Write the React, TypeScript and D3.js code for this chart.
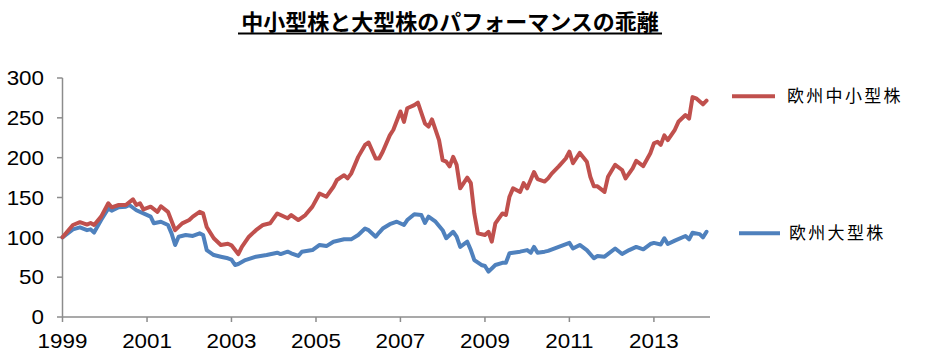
import React from "react";
import * as d3 from "d3";

const title = "中小型株と大型株のパフォーマンスの乖離";
const seriesNames = ["欧州中小型株", "欧州大型株"];
const yTicks = [0, 50, 100, 150, 200, 250, 300];
const xTickLabels = ["1999", "2001", "2003", "2005", "2007", "2009", "2011", "2013"];

const smallDates = ["1999-01","1999-04","1999-06","1999-08","1999-09","1999-10","1999-12","2000-02","2000-03","2000-05","2000-07","2000-09","2000-10","2000-11","2000-12","2001-02","2001-04","2001-05","2001-07","2001-09","2001-11","2002-01","2002-02","2002-04","2002-05","2002-06","2002-08","2002-10","2002-12","2003-01","2003-03","2003-04","2003-06","2003-08","2003-10","2003-12","2004-02","2004-03","2004-05","2004-06","2004-08","2004-10","2004-12","2005-02","2005-04","2005-06","2005-07","2005-09","2005-10","2005-11","2006-01","2006-03","2006-04","2006-06","2006-07","2006-08","2006-10","2006-11","2007-01","2007-02","2007-03","2007-05","2007-06","2007-08","2007-09","2007-10","2007-12","2008-01","2008-02","2008-03","2008-04","2008-05","2008-06","2008-08","2008-09","2008-10","2008-11","2009-01","2009-02","2009-03","2009-04","2009-06","2009-07","2009-08","2009-09","2009-11","2009-12","2010-01","2010-03","2010-04","2010-06","2010-07","2010-08","2010-10","2010-12","2011-01","2011-02","2011-04","2011-06","2011-07","2011-08","2011-09","2011-11","2011-12","2012-02","2012-04","2012-05","2012-07","2012-08","2012-10","2012-12","2013-01","2013-02","2013-03","2013-04","2013-05","2013-07","2013-08","2013-10","2013-11","2013-12","2014-01","2014-03","2014-04"];
const smallValues = [100,115.5,119,116,118,115.5,126,142.7,137.7,140.6,140.6,147.7,140.6,142.7,135,138.5,132,139,132,109,117.6,121.7,126,132,130,113,98.8,90.4,92,90,79,88,100.8,109,115.5,117.6,130,128,124,128,121.7,128,138.5,155,151,163.5,172,178,174,180,201,216,219,199,199,207.5,228,235,258,245,262,266,269,243,239,248,222,197,195,189,201,191,161.5,175,168,130,105,103,107,94.5,117.6,130,128,151,161.5,157,168,161.5,182,173,170,174,180,189,199,207.5,193,206,195,176,164,164,157,176,191,184.5,174,186.6,196,189.5,205.5,218,220,216,228,222,235,245,253.5,249,276,274.5,267,271.5];

const largeDates = ["1999-01","1999-04","1999-06","1999-08","1999-09","1999-10","1999-12","2000-02","2000-03","2000-05","2000-07","2000-08","2000-10","2000-12","2001-02","2001-03","2001-05","2001-07","2001-08","2001-09","2001-10","2001-12","2002-02","2002-04","2002-05","2002-06","2002-08","2002-10","2002-12","2003-01","2003-02","2003-03","2003-05","2003-08","2003-11","2004-02","2004-03","2004-05","2004-06","2004-08","2004-09","2004-12","2005-02","2005-04","2005-06","2005-09","2005-11","2006-01","2006-03","2006-04","2006-06","2006-07","2006-08","2006-10","2006-12","2007-02","2007-03","2007-05","2007-07","2007-08","2007-09","2007-11","2008-01","2008-02","2008-04","2008-05","2008-06","2008-08","2008-09","2008-10","2008-12","2009-01","2009-02","2009-04","2009-06","2009-07","2009-08","2009-11","2010-01","2010-02","2010-03","2010-04","2010-06","2010-07","2010-10","2011-01","2011-02","2011-04","2011-06","2011-08","2011-09","2011-11","2012-02","2012-04","2012-06","2012-08","2012-10","2012-12","2013-01","2013-03","2013-04","2013-05","2013-07","2013-10","2013-11","2013-12","2014-02","2014-03","2014-04"];
const largeValues = [100,110,112.6,109,110,106,121.7,136.4,133.4,137.7,138.5,140.6,134,130,126,117.6,119.6,115.5,105,90.4,100.8,103,101.7,105,103,84,77.8,75.7,73.7,72,65.3,66.5,71.5,75.7,77.8,80.7,79,82,80,76.6,82,84,90.4,89,94.5,97.5,97.5,103,111,109,100.8,106,111,116.5,119.6,115.5,121.7,129,128,118,126,119.6,109,98.8,107,100.8,88,94.5,84,71.5,65.3,64,57,65.3,68,68,80,82,84,80.7,88,80.7,82,83,88,93,86,90.4,84,73.7,76.6,75.7,86,79,84,88,85,91.6,93,91,98.8,91.6,95.8,101.7,97.5,105.8,104,100,107];

const colors = ["#C0504D", "#4F81BD"];

export default function App() {
  const parse = d3.timeParse("%Y-%m");
  const x = d3.scaleTime().domain([parse("1999-01")!, parse("2014-05")!]).range([62.5, 710]);
  const y = d3.scaleLinear().domain([0, 300]).range([317, 78]);
  const line = d3
    .line<[Date, number]>()
    .x((d) => x(d[0]))
    .y((d) => y(d[1]));
  const small: [Date, number][] = smallDates.map((d, i) => [parse(d)!, smallValues[i]]);
  const large: [Date, number][] = largeDates.map((d, i) => [parse(d)!, largeValues[i]]);
  const axisColor = "#8c8c8c";
  const numFont = "'Liberation Sans', Arial, sans-serif";
  const cjkFont = "'Noto Sans CJK JP', sans-serif";
  const titleSize = 22;
  const titleW = title.length * titleSize;
  const titleCx = 450;
  const legendY = [y(277), y(105)];
  const sx = 1.12;

  return (
    <svg
      width={926}
      height={352}
      style={{ position: "absolute", left: 0, top: 0, background: "#fff" }}
    >
      <rect x={0} y={0} width={926} height={352} fill="#fff" />
      <text
        x={titleCx}
        y={30}
        textAnchor="middle"
        fontFamily={cjkFont}
        fontWeight="bold"
        fontSize={titleSize}
        fill="#000"
      >
        {title}
      </text>
      <line x1={titleCx - titleW / 2 - 3} x2={titleCx + titleW / 2 + 3} y1={33.5} y2={33.5} stroke="#000" strokeWidth={2} />

      {/* y axis */}
      <line x1={62.5} x2={62.5} y1={y(300)} y2={y(0)} stroke={axisColor} strokeWidth={1.5} />
      {yTicks.map((t) => (
        <g key={t}>
          <line x1={57} x2={62.5} y1={y(t)} y2={y(t)} stroke={axisColor} strokeWidth={1.5} />
          <text
            transform={`translate(44,${y(t)}) scale(${sx},1)`}
            dy="0.36em"
            textAnchor="end"
            fontFamily={numFont}
            fontSize={20}
            fill="#000"
          >
            {t}
          </text>
        </g>
      ))}

      {/* x axis */}
      <line x1={62.5} x2={710} y1={y(0)} y2={y(0)} stroke={axisColor} strokeWidth={1.5} />
      {xTickLabels.map((lab) => {
        const xv = x(parse(lab + "-01")!);
        return (
          <g key={lab}>
            <line x1={xv} x2={xv} y1={y(0)} y2={y(0) + 5} stroke={axisColor} strokeWidth={1.5} />
            <text
              transform={`translate(${xv},348) scale(${sx},1)`}
              textAnchor="middle"
              fontFamily={numFont}
              fontSize={20}
              fill="#000"
            >
              {lab}
            </text>
          </g>
        );
      })}

      <path d={line(large)!} fill="none" stroke={colors[1]} strokeWidth={4} strokeLinejoin="round" strokeLinecap="round" />
      <path d={line(small)!} fill="none" stroke={colors[0]} strokeWidth={4} strokeLinejoin="round" strokeLinecap="round" />

      {/* legend */}
      {seriesNames.map((name, i) => (
        <g key={name}>
          <line
            x1={i === 0 ? 732 : 739}
            x2={i === 0 ? 775 : 780}
            y1={legendY[i]}
            y2={legendY[i]}
            stroke={colors[i]}
            strokeWidth={4}
          />
          <text
            x={i === 0 ? 787 : 789}
            y={legendY[i]}
            dy="0.36em"
            fontFamily={cjkFont}
            fontSize={17}
            letterSpacing={2.3}
            fill="#000"
          >
            {name}
          </text>
        </g>
      ))}
    </svg>
  );
}
